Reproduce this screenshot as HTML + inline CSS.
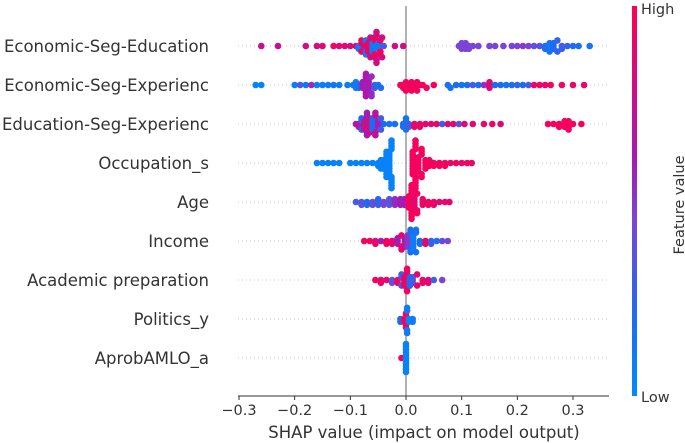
<!DOCTYPE html>
<html><head><meta charset="utf-8">
<style>
html,body{margin:0;padding:0;background:#fff;}
svg{display:block;font-family:"DejaVu Sans","Liberation Sans",sans-serif;}
</style></head>
<body>
<svg id="chart" width="685" height="443" viewBox="0 0 685 443">
<defs>
<linearGradient id="cbar" x1="0" y1="1" x2="0" y2="0">
<stop offset="0" stop-color="#008bfb"/>
<stop offset="0.2" stop-color="#1d6cf0"/>
<stop offset="0.45" stop-color="#7a45d6"/>
<stop offset="0.62" stop-color="#a818b0"/>
<stop offset="1" stop-color="#ff0051"/>
</linearGradient>
</defs>
<g id="grid"></g>
<line x1="406" y1="6" x2="406" y2="396" stroke="#999" stroke-width="1.5"/>
<g id="dots"></g>
<g id="labels"></g>
<line x1="238" y1="396" x2="609" y2="396" stroke="#333" stroke-width="1"/>
<g id="xticks"></g>
<text x="424" y="438" font-size="16.5" fill="#333" text-anchor="middle">SHAP value (impact on model output)</text>
<rect x="632" y="6" width="5" height="390" fill="url(#cbar)"/>
<text x="641" y="14" font-size="14.5" fill="#333">High</text>
<text x="641" y="402" font-size="14.5" fill="#333">Low</text>
<text x="0" y="0" font-size="14.5" fill="#333" text-anchor="middle" transform="translate(684,205) rotate(-90)">Feature value</text>
</svg>
<script>
const features = ["Economic-Seg-Education","Economic-Seg-Experienc","Education-Seg-Experienc","Occupation_s","Age","Income","Academic preparation","Politics_y","AprobAMLO_a"];
const xTicks = [-0.3,-0.2,-0.1,0.0,0.1,0.2,0.3];
const xTickLabels = ["\u22120.3","\u22120.2","\u22120.1","0.0","0.1","0.2","0.3"];
// each entry: [shap value, feature value (0 low .. 1 high), count]
const row0 = [[-0.26,0.75,1],[-0.23,0.75,1],[-0.18,0.8,1],[-0.16,0.8,1],[-0.15,0.85,1],[-0.13,0.9,1],[-0.12,0.85,1],[-0.11,0.9,1],[-0.1,0.8,1],[-0.09,0.85,1],
[-0.085,0.1,2],[-0.08,0.95,3],[-0.075,0.8,3],[-0.072,0.1,3],[-0.068,0.95,4],[-0.064,0.8,4],[-0.06,0.1,4],[-0.056,0.95,4],[-0.053,0.8,4],[-0.05,0.1,3],[-0.046,0.95,3],[-0.043,0.8,2],[-0.04,0.3,1],
[-0.02,0.8,1],[-0.005,0.8,1],[0.095,0.45,1],[0.1,0.45,2],[0.107,0.45,3],[0.113,0.45,2],[0.12,0.45,1],[0.13,0.45,1],[0.15,0.45,1],[0.16,0.45,1],[0.175,0.45,1],[0.19,0.45,1],[0.2,0.45,1],[0.21,0.5,1],[0.22,0.45,1],[0.23,0.4,1],[0.24,0.35,1],[0.25,0.2,2],[0.258,0.15,4],[0.265,0.2,3],[0.272,0.25,2],[0.28,0.3,2],[0.29,0.25,1],[0.3,0.2,1],[0.31,0.2,1],[0.33,0.15,1]];
const row1 = [[-0.27,0.05,1],[-0.26,0.05,1],[-0.2,0.1,1],[-0.19,0.3,1],[-0.18,0.15,1],[-0.17,0.55,1],[-0.16,0.1,1],[-0.15,0.1,1],[-0.14,0.1,1],[-0.13,0.15,1],[-0.12,0.1,1],[-0.105,0.1,1],[-0.095,0.15,1],[-0.09,0.1,2],[-0.085,0.15,2],
[-0.078,0.6,3],[-0.072,0.65,6],[-0.067,0.6,5],[-0.062,0.55,3],[-0.056,0.3,2],[-0.05,0.15,1],[-0.045,0.2,1],
[-0.01,0.95,1],[-0.005,0.95,2],[0.0,0.95,2],[0.005,0.95,2],[0.01,0.95,2],[0.015,0.95,2],[0.02,0.95,2],[0.025,0.95,1],[0.03,0.95,1],[0.037,0.95,1],[0.05,0.95,1],
[0.075,0.15,1],[0.08,0.15,1],[0.09,0.2,1],[0.1,0.15,1],[0.11,0.2,1],[0.12,0.3,1],[0.13,0.2,1],[0.14,0.55,1],[0.15,0.85,3],[0.16,0.2,1],[0.17,0.2,1],[0.18,0.15,1],[0.19,0.2,1],[0.2,0.25,1],[0.21,0.2,1],[0.22,0.3,1],[0.23,0.9,1],[0.24,0.95,1],[0.25,0.9,1],[0.26,0.95,1],[0.28,0.9,1],[0.3,0.9,1],[0.32,0.9,1]];
const row2 = [[-0.09,0.65,1],[-0.085,0.7,2],[-0.08,0.2,3],[-0.075,0.75,4],[-0.07,0.6,5],[-0.065,0.8,6],[-0.06,0.2,5],[-0.055,0.7,4],[-0.05,0.6,3],[-0.045,0.3,2],[-0.04,0.2,1],[-0.03,0.15,1],[-0.02,0.15,1],
[-0.005,0.2,2],[0.0,0.15,3],[0.005,0.3,2],[0.015,0.9,2],[0.025,0.9,2],[0.035,0.9,1],[0.045,0.85,1],[0.055,0.9,1],[0.065,0.3,1],[0.075,0.85,1],[0.085,0.85,1],[0.095,0.4,1],[0.105,0.85,1],[0.12,0.85,1],[0.14,0.9,1],[0.155,0.9,1],[0.17,0.85,1],
[0.255,0.95,1],[0.265,0.95,1],[0.275,0.95,2],[0.285,0.95,3],[0.292,0.95,4],[0.3,0.95,1],[0.315,0.95,1]];
const row3 = [[-0.16,0.05,1],[-0.15,0.05,1],[-0.14,0.05,1],[-0.13,0.05,1],[-0.12,0.05,1],[-0.1,0.05,1],[-0.09,0.05,1],[-0.08,0.05,1],[-0.07,0.05,1],[-0.06,0.05,1],[-0.05,0.05,2],[-0.045,0.05,2],[-0.04,0.05,4],[-0.035,0.05,6],[-0.03,0.05,9],[-0.026,0.05,9],
[0.012,0.95,9],[0.017,0.95,9],[0.022,0.95,6],[0.028,0.95,5],[0.035,0.95,4],[0.042,0.95,3],[0.05,0.95,2],[0.06,0.95,2],[0.07,0.95,2],[0.08,0.9,1],[0.09,0.95,1],[0.1,0.9,1],[0.11,0.95,1],[0.118,0.9,1]];
const row4 = [[-0.09,0.3,1],[-0.08,0.35,2],[-0.07,0.2,2],[-0.06,0.4,2],[-0.05,0.25,3],[-0.04,0.45,2],[-0.03,0.35,3],[-0.02,0.55,3],[-0.01,0.6,3],[-0.003,0.6,3],
[0.005,0.95,5],[0.01,0.95,8],[0.015,0.9,5],[0.02,0.95,3],[0.03,0.9,3],[0.04,0.95,2],[0.05,0.9,2],[0.06,0.85,1],[0.07,0.9,1],[0.078,0.9,1]];
const row5 = [[-0.075,0.95,1],[-0.065,0.95,1],[-0.055,0.9,2],[-0.045,0.6,1],[-0.035,0.95,2],[-0.025,0.9,2],[-0.015,0.6,3],[-0.008,0.9,3],[-0.002,0.7,4],[0.003,0.5,5],[0.008,0.2,4],[0.013,0.1,6],[0.018,0.15,3],[0.025,0.2,2],[0.035,0.9,2],[0.045,0.3,2],[0.055,0.15,1],[0.065,0.4,1],[0.075,0.45,1]];
const row6 = [[-0.055,0.95,1],[-0.045,0.9,2],[-0.035,0.9,1],[-0.025,0.4,2],[-0.015,0.95,2],[-0.008,0.3,3],[-0.003,0.9,4],[0.002,0.95,5],[0.007,0.2,4],[0.012,0.3,3],[0.02,0.9,2],[0.03,0.9,2],[0.04,0.85,2],[0.05,0.3,1],[0.065,0.45,1]];
const row7 = [[-0.01,0.2,2],[-0.003,0.95,2],[0.0,0.95,4],[0.002,0.1,4],[0.005,0.05,2],[0.012,0.1,2]];
const row8 = [[-0.008,0.95,1],[0.0,0.05,11]];
const rows = [row0,row1,row2,row3,row4,row5,row6,row7,row8];

const NS = "http://www.w3.org/2000/svg";
const X0 = 406, XS = 556.7, Y0 = 46, YS = 39;
function xScale(v){ return X0 + v*XS; }
function yRow(i){ return Y0 + i*YS; }
function mix(a,b,t){ return a.map((c,i)=>Math.round(c+(b[i]-c)*t)); }
function color(f){
  const st=[[0,[0,139,251]],[0.2,[29,108,240]],[0.45,[122,69,214]],[0.62,[168,24,176]],[1,[255,0,81]]];
  for(let i=1;i<st.length;i++){ if(f<=st[i][0]){ const t=(f-st[i-1][0])/(st[i][0]-st[i-1][0]); const c=mix(st[i-1][1],st[i][1],t); return "rgb("+c.join(",")+")"; } }
  return "rgb(255,0,81)";
}
const grid = document.getElementById("grid"), dots = document.getElementById("dots"), labels = document.getElementById("labels"), xt = document.getElementById("xticks");
features.forEach((name,i)=>{
  const y = yRow(i);
  const g = document.createElementNS(NS,"line");
  g.setAttribute("x1",238); g.setAttribute("x2",609); g.setAttribute("y1",y); g.setAttribute("y2",y);
  g.setAttribute("stroke","#ccc"); g.setAttribute("stroke-dasharray","1,3");
  
  
  grid.appendChild(g);
  const t = document.createElementNS(NS,"text");
  t.setAttribute("x",209); t.setAttribute("y",y+6); t.setAttribute("text-anchor","end");
  t.setAttribute("font-size","16.5"); t.setAttribute("fill","#333");
  t.textContent = name;
  
  
  labels.appendChild(t);
  const pts = [];
  rows[i].forEach(p=>{ for(let k=0;k<p[2];k++) pts.push([p[0],p[1]]); });
  pts.sort((a,b)=>a[0]-b[0]);
  const bins = {};
  pts.forEach(p=>{
    const px = xScale(p[0]);
    const b = Math.round(px/5);
    const k = bins[b]||0; bins[b]=k+1;
    const off = Math.ceil(k/2)*(k%2?1:-1)*2.8;
    const c = document.createElementNS(NS,"circle");
    c.setAttribute("cx",px.toFixed(1)); c.setAttribute("cy",(y+off).toFixed(1)); c.setAttribute("r",3.3);
    c.setAttribute("fill",color(p[1]));
    
    
    dots.appendChild(c);
  });
});
xTicks.forEach((v,i)=>{
  const x = xScale(v);
  const l = document.createElementNS(NS,"line");
  l.setAttribute("x1",x); l.setAttribute("x2",x); l.setAttribute("y1",396); l.setAttribute("y2",400);
  l.setAttribute("stroke","#333");
  
  
  xt.appendChild(l);
  const t = document.createElementNS(NS,"text");
  t.setAttribute("x",x); t.setAttribute("y",415); t.setAttribute("text-anchor","middle");
  t.setAttribute("font-size","14.5"); t.setAttribute("fill","#333");
  t.textContent = xTickLabels[i];
  
  
  xt.appendChild(t);
});
</script>
</body></html>
